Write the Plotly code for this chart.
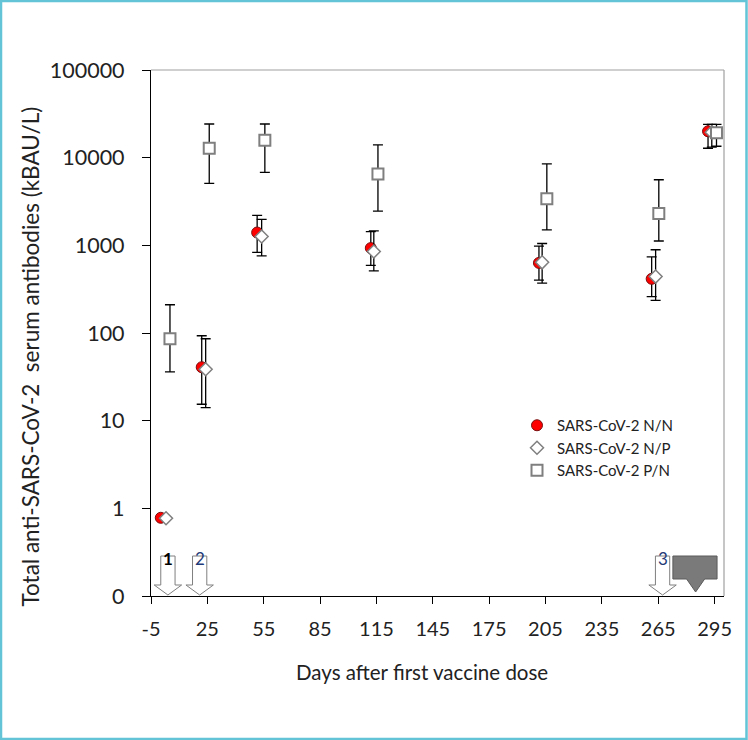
import plotly.graph_objects as go

# ---------------- data ----------------
nn_days = [0.2, 22.0, 51.5, 112.0, 201.5, 261.5, 291.5]
nn_vals = [0.78, 40.7, 1400, 930, 630, 415, 20000]
nn_hi = [None, 93, 2200, 1430, 980, 740, 24000]
nn_lo = [None, 15.4, 830, 590, 400, 260, 12800]

np_days = [3.0, 24.1, 53.9, 113.6, 203.2, 263.6, 293.5]
np_vals = [0.77, 38.6, 1260, 850, 640, 440, 19500]
np_hi = [None, 86, 1980, 1460, 1050, 890, 24000]
np_lo = [None, 14.1, 760, 510, 370, 235, 13200]

pn_days = [5.1, 26.0, 55.6, 115.8, 205.7, 265.3, 296.0]
pn_vals = [86, 12800, 15800, 6500, 3400, 2300, 19300]
pn_hi = [210, 24200, 24200, 14000, 8500, 5600, 24000]
pn_lo = [36, 5100, 6800, 2450, 1500, 1120, 13500]

x_ticks = [-5, 25, 55, 85, 115, 145, 175, 205, 235, 265, 295]
x_ticktext = ["-5", "25", "55", "85", "115", "145", "175", "205", "235", "265", "295"]
y_tickvals = [0.1, 1, 10, 100, 1000, 10000, 100000]
y_ticktext = ["0", "1", "10", "100", "1000", "10000", "100000"]

dose_days = [4.0, 20.9, 267.3]
dose_labels = ["<b>1</b>", "2", "3"]
booster_day = 284.9

FONT = "Lato"

def errs(vals, hi, lo):
    plus = [(h - v) if h is not None else None for v, h in zip(vals, hi)]
    minus = [(v - l) if l is not None else None for v, l in zip(vals, lo)]
    return plus, minus

fig = go.Figure()

def add_series(name, days, vals, hi, lo, marker):
    plus, minus = errs(vals, hi, lo)
    fig.add_trace(go.Scatter(
        x=days, y=vals, mode="markers", name=name,
        marker=marker,
        error_y=dict(type="data", symmetric=False, array=plus, arrayminus=minus,
                     color="black", thickness=1.3, width=5),
    ))

add_series("SARS-CoV-2 N/N", nn_days, nn_vals, nn_hi, nn_lo,
           dict(symbol="circle", size=11, color="#ff0000", line=dict(color="#7a1010", width=1)))
add_series("SARS-CoV-2 N/P", np_days, np_vals, np_hi, np_lo,
           dict(symbol="diamond", size=10, color="white", line=dict(color="#7f7f7f", width=1.5)))
add_series("SARS-CoV-2 P/N", pn_days, pn_vals, pn_hi, pn_lo,
           dict(symbol="square", size=11, color="white", line=dict(color="#7f7f7f", width=2)))

# ---------------- layout geometry ----------------
W, H = 748, 740
ML, MR, MT, MB = 151, 24, 70, 144
pw, ph = W - ML - MR, H - MT - MB

def px2paper_x(px):
    return (px - ML) / pw

def px2paper_y(py):
    return (H - MB - py) / ph

shapes = []
# outer teal border
shapes.append(dict(type="rect", xref="paper", yref="paper",
                   x0=px2paper_x(1), x1=px2paper_x(746.5), y0=px2paper_y(739), y1=px2paper_y(1),
                   line=dict(color="#62c4d6", width=2.5), fillcolor="rgba(0,0,0,0)", layer="below"))
# top/right frame
shapes.append(dict(type="line", xref="paper", yref="paper", x0=0, x1=1, y0=1, y1=1,
                   line=dict(color="#a0a0a0", width=1.2)))
shapes.append(dict(type="line", xref="paper", yref="paper", x0=1, x1=1, y0=0, y1=1,
                   line=dict(color="#a0a0a0", width=1.2)))

# dose arrows (white block arrows)
y_top = px2paper_y(556)
y_neck = px2paper_y(585)
y_tip = px2paper_y(595)
bw, hw = 3.8, 7.3
for d in dose_days:
    path = (f"M {d-bw},{y_top} L {d+bw},{y_top} L {d+bw},{y_neck} L {d+hw},{y_neck} "
            f"L {d},{y_tip} L {d-hw},{y_neck} L {d-bw},{y_neck} Z")
    shapes.append(dict(type="path", xref="x", yref="paper", path=path,
                       fillcolor="white", line=dict(color="#7f7f7f", width=1)))

# booster gray arrow
r_top = px2paper_y(556)
r_bot = px2paper_y(579)
g_tip = px2paper_y(592)
x0r, x1r = 272.8, 296.3
gh = 4.8
path = (f"M {x0r},{r_top} L {x1r},{r_top} L {x1r},{r_bot} L {booster_day+gh},{r_bot} "
        f"L {booster_day},{g_tip} L {booster_day-gh},{r_bot} L {x0r},{r_bot} Z")
shapes.append(dict(type="path", xref="x", yref="paper", path=path,
                   fillcolor="#7a7a7a", line=dict(color="#5a5a5a", width=1)))

annotations = []
for d, lab in zip(dose_days, dose_labels):
    annotations.append(dict(x=d, y=px2paper_y(571), xref="x", yref="paper", text=lab,
                            showarrow=False, font=dict(family=FONT, size=17,
                            color="black" if "b" in lab else "#1f3a78")))
annotations.append(dict(x=px2paper_x(422), y=px2paper_y(686), xref="paper", yref="paper",
                        text="Days after first vaccine dose", showarrow=False,
                        font=dict(family=FONT, size=20.5, color="#222")))
annotations.append(dict(x=px2paper_x(14), y=px2paper_y(357), xref="paper", yref="paper",
                        text="Total anti-SARS-CoV-2  serum antibodies (kBAU/L)", textangle=-90,
                        showarrow=False, font=dict(family=FONT, size=22.5, color="#222")))

fig.update_layout(
    width=W, height=H,
    margin=dict(l=ML, r=MR, t=MT, b=MB, pad=0),
    paper_bgcolor="white", plot_bgcolor="white",
    font=dict(family=FONT, color="#222"),
    showlegend=True,
    legend=dict(x=px2paper_x(517), y=px2paper_y(409), xanchor="left", yanchor="top",
                bgcolor="rgba(0,0,0,0)", font=dict(family=FONT, size=15, color="#222"),
                tracegroupgap=0, itemwidth=30),
    shapes=shapes,
    annotations=annotations,
    xaxis=dict(range=[-5, 300], tickvals=x_ticks, ticktext=x_ticktext,
               showgrid=False, zeroline=False,
               showline=True, linecolor="black", linewidth=1.2,
               ticks="outside", ticklen=7, tickcolor="black", tickwidth=1.2,
               tickfont=dict(family=FONT, size=20, color="#222"), ticklabelstandoff=8),
    yaxis=dict(type="log", range=[-1, 5], tickvals=y_tickvals, ticktext=y_ticktext,
               showgrid=False, zeroline=False,
               showline=True, linecolor="black", linewidth=1.2,
               ticks="outside", ticklen=8, tickcolor="black", tickwidth=1.2,
               tickfont=dict(family=FONT, size=21.5, color="#222"), ticklabelstandoff=13),
)

fig.write_html("out.html", config={"displayModeBar": False},
               post_script="document.body.style.margin='0';document.body.style.overflow='hidden';")
